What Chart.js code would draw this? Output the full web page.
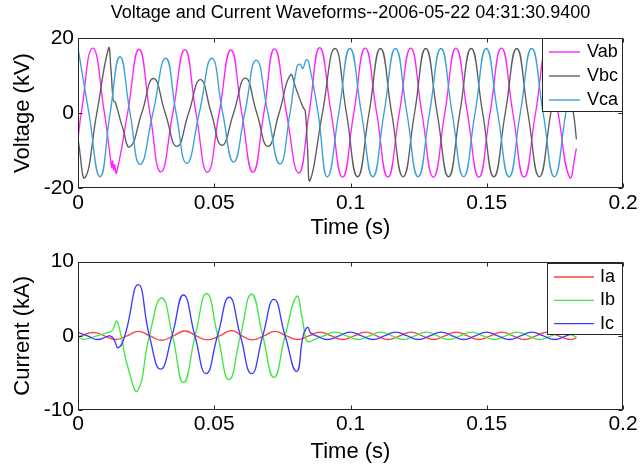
<!DOCTYPE html>
<html>
<head>
<meta charset="utf-8">
<script src="https://cdn.jsdelivr.net/npm/chart.js@4.4.1/dist/chart.umd.min.js"></script>
<style>
  html, body { margin: 0; padding: 0; background: #ffffff; }
  #wrap { position: relative; width: 640px; height: 470px; overflow: hidden; background: #ffffff; }
  #vChart { position: absolute; left: 0; top: 0; }
  #iChart { position: absolute; left: 0; top: 245px; }
</style>
</head>
<body>
<div id="wrap">
  <canvas id="vChart" width="640" height="245"></canvas>
  <canvas id="iChart" width="640" height="225"></canvas>
</div>
<script>
// ---- Recorded waveform data (time in s, voltage in kV, current in kA) ----
const chartTitle = 'Voltage and Current Waveforms--2006-05-22 04:31:30.9400';
const xTickLabels = ['0', '0.05', '0.1', '0.15', '0.2'];
const vTickLabels = ['-20', '0', '20'];
const iTickLabels = ['-10', '0', '10'];

const vabT = [0, 0.0012, 0.0054, 0.0097,
  0.0118, 0.0124, 0.0127, 0.0131, 0.0134, 0.0141,
  0.0182, 0.0224, 0.0264, 0.0304,
  0.0348, 0.0392, 0.0433, 0.0475,
  0.0518, 0.0561, 0.0601, 0.0642,
  0.0682, 0.0721, 0.0765, 0.0810,
  0.0848, 0.0887, 0.0929, 0.0971,
  0.1012, 0.1054, 0.1096, 0.1137,
  0.1179, 0.1221, 0.1262, 0.1304,
  0.1346, 0.1387, 0.1429, 0.1471,
  0.1512, 0.1554, 0.1596, 0.1637,
  0.1679, 0.1721, 0.1762, 0.1804,
  0.1829];
const vabV = [-7, 0, 17.3, 0,
  -11.5, -14.5, -12.8, -15.2, -13.8, -16.0,
  0, 17.0, 0, -15.7,
  0, 16.9, 0, -15.8,
  0, 16.8, 0, -15.8,
  0, 17.1, 0, -16.0,
  0, 17.4, 0, -17.1,
  0, 17.3, 0, -17.1,
  0, 17.3, 0, -17.1,
  0, 17.3, 0, -17.1,
  0, 17.3, 0, -17.1,
  0, 17.3, 0, -17.1,
  -9.5];

const vbcT = [0, 0.0026, 0.0069, 0.0112,
  0.0120, 0.0127, 0.0130, 0.0137, 0.0162,
  0.0191, 0.0234, 0.0277, 0.0320,
  0.0363, 0.0406, 0.0449, 0.0489,
  0.0528, 0.0571, 0.0614, 0.0656,
  0.0697, 0.0738, 0.0779,
  0.0800, 0.0815, 0.0826, 0.0834, 0.0842,
  0.0852, 0.0897, 0.0943, 0.0985,
  0.1026, 0.1068, 0.1110, 0.1151,
  0.1193, 0.1235, 0.1276, 0.1318,
  0.1360, 0.1401, 0.1443, 0.1485,
  0.1526, 0.1568, 0.1610, 0.1651,
  0.1693, 0.1735, 0.1776, 0.1818,
  0.1829];
const vbcV = [-7, -17.2, 0, 17.2,
  12.5, 5, 3.3, 2.8, -3.5,
  -9.0, 0, 9.2, 0,
  -8.9, 0, 8.9, 0,
  -8.6, 0, 9.3, 0,
  -8.9, 0, 10.1,
  6.5, 3.5, 1.5, 0.5, -9,
  -17.9, 0, 17.2, 0,
  -17.0, 0, 17.2, 0,
  -17.0, 0, 17.2, 0,
  -17.0, 0, 17.2, 0,
  -17.0, 0, 17.2, 0,
  -17.0, 0, 17.2, 0,
  -7];

const vcaT = [0, 0.0040, 0.0081, 0.0118,
  0.0154, 0.0191, 0.0228, 0.0275,
  0.0322, 0.0360, 0.0399, 0.0445,
  0.0491, 0.0531, 0.0571, 0.0612,
  0.0654, 0.0697, 0.0741, 0.0778,
  0.0803, 0.0815, 0.0825, 0.0837, 0.0846,
  0.0881, 0.0915, 0.0957, 0.0998,
  0.1040, 0.1082, 0.1123, 0.1165,
  0.1207, 0.1248, 0.1290, 0.1332,
  0.1373, 0.1415, 0.1457, 0.1498,
  0.1540, 0.1582, 0.1623, 0.1665,
  0.1707, 0.1748, 0.1790, 0.1829];
const vcaV = [17.3, 0, -17.0, 0,
  15.0, 0, -13.7, 0,
  14.6, 0, -13.4, 0,
  14.6, 0, -13.1, 0,
  14.1, 0, -13.6, 0,
  12.3, 13.0, 11.9, 14.1, 13.7,
  0, -17.0, 0, 17.2,
  0, -17.0, 0, 17.2,
  0, -17.0, 0, 17.2,
  0, -17.0, 0, 17.2,
  0, -17.0, 0, 17.2,
  0, -17.0, 0, 17.2];

const iaT = [0, 0.0013, 0.0055, 0.0097,
  0.0138, 0.0180, 0.0221, 0.0264,
  0.0307, 0.0350, 0.0393, 0.0434,
  0.0475, 0.0520, 0.0564, 0.0602,
  0.0640, 0.0682, 0.0723, 0.0765,
  0.0807, 0.0847, 0.0888, 0.0930,
  0.0971, 0.1013, 0.1055, 0.1096,
  0.1138, 0.1180, 0.1222, 0.1263,
  0.1305, 0.1346, 0.1388, 0.1430,
  0.1471, 0.1513, 0.1555, 0.1596,
  0.1638, 0.1680, 0.1722, 0.1763,
  0.1805, 0.1829];
const iaV = [-0.15, 0, 0.45, 0,
  -0.5, 0, 0.6, 0,
  -0.6, 0, 0.65, 0,
  -0.55, 0, 0.7, 0,
  -0.55, 0, 0.6, 0,
  -0.5, 0, 0.5, 0,
  -0.5, 0, 0.5, 0,
  -0.5, 0, 0.5, 0,
  -0.5, 0, 0.5, 0,
  -0.5, 0, 0.5, 0,
  -0.5, 0, 0.5, 0,
  -0.5, -0.3];

const ibT = [0, 0.0028, 0.0069, 0.0111,
  0.0125, 0.0135, 0.0142, 0.0149, 0.0158,
  0.0185, 0.0219, 0.0262, 0.0307,
  0.0347, 0.0387, 0.0430, 0.0472,
  0.0513, 0.0554, 0.0596, 0.0637,
  0.0678, 0.0719, 0.0760, 0.0802,
  0.0822, 0.0838, 0.0848, 0.0866,
  0.0902, 0.0944, 0.0986, 0.1027,
  0.1069, 0.1111, 0.1152, 0.1194,
  0.1236, 0.1278, 0.1319, 0.1361,
  0.1402, 0.1444, 0.1486, 0.1527,
  0.1569, 0.1611, 0.1652, 0.1694,
  0.1736, 0.1778, 0.1819, 0.1829];
const ibV = [-0.25, -0.45, 0, 0.45,
  0.7, 1.5, 2.0, 1.4, 0,
  -4.5, -7.4, 0, 5.1,
  0, -6.3, 0, 5.7,
  0, -5.9, 0, 5.6,
  0, -5.6, 0, 5.3,
  2.5, -0.6, -0.8, -0.5,
  0, 0.5, 0, -0.5,
  0, 0.5, 0, -0.5,
  0, 0.5, 0, -0.5,
  0, 0.5, 0, -0.5,
  0, 0.5, 0, -0.5,
  0, 0.5, 0, -0.2];

const icT = [0, 0.0035, 0.0069, 0.0105, 0.0118, 0.0132, 0.0148, 0.0172,
  0.0221, 0.0262, 0.0303, 0.0345,
  0.0387, 0.0429, 0.0470, 0.0512,
  0.0555, 0.0596, 0.0637, 0.0678,
  0.0719, 0.0760, 0.0802, 0.0826,
  0.0838, 0.0845, 0.0853, 0.0875,
  0.0916, 0.0958, 0.0999, 0.1041,
  0.1083, 0.1124, 0.1166, 0.1208,
  0.1249, 0.1291, 0.1333, 0.1374,
  0.1416, 0.1458, 0.1499, 0.1541,
  0.1583, 0.1624, 0.1666, 0.1708,
  0.1749, 0.1791, 0.1829];
const icV = [0.45, 0, -0.5, -0.15, 0, -0.5, -1.6, 0,
  6.9, 0, -4.5, 0,
  5.5, 0, -5.1, 0,
  5.2, 0, -5.1, 0,
  4.9, 0, -4.8, 0,
  1.0, 1.1, 0.4, 0,
  -0.5, 0, 0.5, 0,
  -0.5, 0, 0.5, 0,
  -0.5, 0, 0.5, 0,
  -0.5, 0, 0.5, 0,
  -0.5, 0, 0.5, 0,
  -0.5, 0, 0.45];

// ---- Drawing ----
const FONT = "'Liberation Sans', Arial, Helvetica, sans-serif";

function points(ts, vs) {
  return ts.map((t, i) => ({ x: t, y: vs[i] }));
}

function trace(label, ts, vs, color, order) {
  return {
    label, data: points(ts, vs), borderColor: color, backgroundColor: color,
    borderWidth: 1.35, pointRadius: 0, tension: 0.5, fill: false, order
  };
}

// Axes box with inward tick marks on all four sides
const framePlugin = {
  id: 'frame',
  afterDraw(chart) {
    const { ctx, chartArea: a, scales } = chart;
    const L = Math.round(a.left) + 0.5, R = Math.round(a.right) - 0.5;
    const T = Math.round(a.top) + 0.5, B = Math.round(a.bottom) - 0.5;
    ctx.save();
    ctx.strokeStyle = '#262626';
    ctx.lineWidth = 1;
    ctx.strokeRect(L, T, R - L, B - T);
    ctx.beginPath();
    scales.x.ticks.forEach(tk => {
      const px = Math.round(scales.x.getPixelForValue(tk.value)) + 0.5;
      ctx.moveTo(px, B); ctx.lineTo(px, B - 4);
      ctx.moveTo(px, T); ctx.lineTo(px, T + 4);
    });
    scales.y.ticks.forEach(tk => {
      const py = Math.round(scales.y.getPixelForValue(tk.value)) + 0.5;
      ctx.moveTo(L, py); ctx.lineTo(L + 4, py);
      ctx.moveTo(R, py); ctx.lineTo(R - 4, py);
    });
    ctx.stroke();
    ctx.restore();
  }
};

// Boxed legend in the upper-right corner of the plot area
const boxLegendPlugin = {
  id: 'boxLegend',
  afterDatasetsDraw(chart, args, o) {
    const { ctx, chartArea: a } = chart;
    const x0 = Math.round(a.right - o.width), y0 = Math.round(a.top + o.offsetY);
    ctx.save();
    ctx.fillStyle = '#ffffff';
    ctx.fillRect(x0, y0, o.width, o.height);
    ctx.strokeStyle = '#262626';
    ctx.lineWidth = 1;
    ctx.strokeRect(x0 + 0.5, y0 + 0.5, o.width - 1, o.height - 1);
    ctx.font = o.fontSize + 'px ' + FONT;
    ctx.textBaseline = 'middle';
    ctx.textAlign = 'left';
    chart.data.datasets.forEach((ds, i) => {
      const y = y0 + o.firstRow + i * o.rowGap;
      ctx.strokeStyle = ds.borderColor;
      ctx.lineWidth = ds.borderWidth;
      ctx.beginPath();
      ctx.moveTo(x0 + o.lineStart, y);
      ctx.lineTo(x0 + o.lineStart + o.lineLen, y);
      ctx.stroke();
      ctx.fillStyle = '#000000';
      ctx.fillText(ds.label, x0 + o.textStart, y);
    });
    ctx.restore();
  }
};

function xScale(axisHeight, tickPad, titlePadBottom) {
  return {
    type: 'linear', min: 0, max: 0.2,
    afterFit: s => { s.height = axisHeight; },
    grid: { display: false, drawTicks: false },
    border: { display: false },
    ticks: {
      stepSize: 0.05, padding: tickPad, maxRotation: 0, autoSkip: false,
      color: '#000', font: { family: FONT, size: 21 },
      callback: (v, i) => xTickLabels[i]
    },
    title: {
      display: true, text: 'Time (s)', color: '#000',
      font: { family: FONT, size: 22 }, padding: { top: 0, bottom: titlePadBottom }
    }
  };
}

function yScale(min, max, step, labels, titleText) {
  return {
    type: 'linear', min, max,
    afterFit: s => { s.width = 78; },
    grid: { display: false, drawTicks: false },
    border: { display: false },
    ticks: {
      stepSize: step, padding: 4, color: '#000',
      font: { family: FONT, size: 21 },
      callback: (v, i) => labels[i]
    },
    title: {
      display: true, text: titleText, color: '#000',
      font: { family: FONT, size: 22 }, padding: { top: 10, bottom: 0 }
    }
  };
}

new Chart(document.getElementById('vChart'), {
  type: 'line',
  data: {
    datasets: [
      trace('Vab', vabT, vabV, '#ff22ff', 2),
      trace('Vbc', vbcT, vbcV, '#5c5c5c', 1),
      trace('Vca', vcaT, vcaV, '#3aa0d5', 0)
    ]
  },
  options: {
    responsive: false, animation: false, events: [],
    layout: { padding: { left: 0, right: 17, top: 0, bottom: 0 } },
    plugins: {
      legend: { display: false }, tooltip: { enabled: false },
      title: {
        display: true, text: chartTitle, fullSize: false, color: '#000',
        font: { family: FONT, size: 18, weight: 'normal' },
        padding: { top: 2, bottom: 14.4 }
      },
      boxLegend: { width: 81, height: 74, offsetY: 0, firstRow: 14, rowGap: 24,
                   lineStart: 7, lineLen: 31, textStart: 45, fontSize: 18 }
    },
    scales: {
      x: xScale(57, 2.4, 3.8),
      y: yScale(-20, 20, 20, vTickLabels, 'Voltage (kV)')
    }
  },
  plugins: [boxLegendPlugin, framePlugin]
});

new Chart(document.getElementById('iChart'), {
  type: 'line',
  data: {
    datasets: [
      trace('Ia', iaT, iaV, '#ff4040', 2),
      trace('Ib', ibT, ibV, '#40e840', 1),
      trace('Ic', icT, icV, '#3c3cff', 0)
    ]
  },
  options: {
    responsive: false, animation: false, events: [],
    layout: { padding: { left: 0, right: 17, top: 15, bottom: 0 } },
    plugins: {
      legend: { display: false }, tooltip: { enabled: false },
      boxLegend: { width: 76, height: 72, offsetY: 1, firstRow: 14, rowGap: 23.3,
                   lineStart: 7, lineLen: 40, textStart: 53, fontSize: 18 }
    },
    scales: {
      x: xScale(60, 1.5, 5),
      y: yScale(-10, 10, 10, iTickLabels, 'Current (kA)')
    }
  },
  plugins: [boxLegendPlugin, framePlugin]
});
</script>
</body>
</html>
